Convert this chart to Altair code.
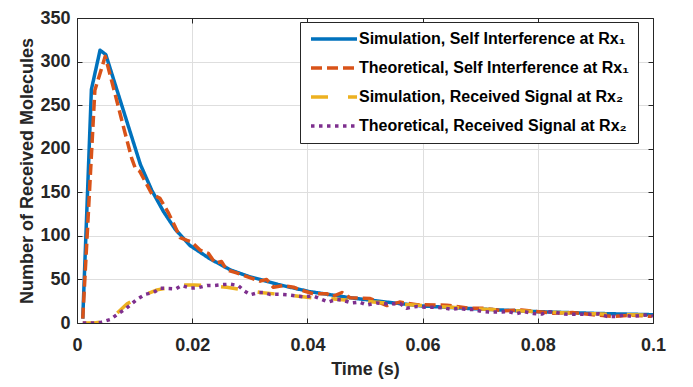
import altair as alt
import pandas as pd

# ---------------- data ----------------
series_names = [
    "Simulation, Self Interference at Rx\u2081",
    "Theoretical, Self Interference at Rx\u2081",
    "Simulation, Received Signal at Rx\u2082",
    "Theoretical, Received Signal at Rx\u2082",
]
series_colors = ["#0072BD", "#D95319", "#EDB120", "#7E2F8E"]
series_dashes = [[1, 0], [11, 5], [17, 20], [3.5, 4.5]]

t_sim_self = [0.001, 0.0025, 0.004, 0.005, 0.007, 0.009, 0.011, 0.013, 0.015, 0.017,
              0.0196, 0.023, 0.0266, 0.030, 0.0318, 0.035, 0.0404, 0.0474, 0.055,
              0.060, 0.070, 0.080, 0.090, 0.100]
n_sim_self = [5, 268, 313, 308, 266, 224, 182, 152, 128, 108,
              89, 74, 61, 53, 50, 44, 36, 29, 23,
              19.5, 16, 13, 11, 9.5]

t_theo_self = [0.001, 0.0031, 0.0049, 0.0066, 0.0083, 0.0095, 0.0101, 0.0109, 0.013, 0.0144,
               0.0159, 0.017, 0.0179, 0.019, 0.0199, 0.0214, 0.0228, 0.024, 0.0251, 0.026,
               0.0277, 0.030, 0.0318, 0.0329, 0.0341, 0.0358, 0.0376, 0.0393, 0.041, 0.0434,
               0.0442, 0.046, 0.0474, 0.0509, 0.0538, 0.056, 0.059, 0.0642, 0.068, 0.0705,
               0.074, 0.0772, 0.0827, 0.086, 0.0896, 0.0931, 0.096, 0.0998]
n_theo_self = [5, 267, 306, 263, 219, 189, 178, 174, 148, 143,
               126, 111, 98, 95, 93, 83.5, 80, 68.7, 70.5, 61,
               57.5, 52, 48, 50, 41, 43, 41, 37, 33.5, 33.5,
               30, 35, 29, 28, 20, 24, 21, 20.5, 17, 17,
               14, 15, 11.3, 12, 9.4, 7.6, 9, 7.6]

t_sim_rx = [0.001, 0.002, 0.003, 0.004, 0.0055, 0.0069, 0.0087, 0.0104, 0.0122, 0.0139,
            0.0156, 0.0179, 0.0203, 0.0231, 0.026, 0.030, 0.0318, 0.037, 0.0422, 0.0439,
            0.047, 0.050, 0.055, 0.060, 0.065, 0.070, 0.075, 0.080, 0.085, 0.090, 0.095, 0.100]
n_sim_rx = [0, 0, 0, 1, 5, 11, 22, 28, 33.5, 38,
            40, 43.5, 43.5, 42.8, 41, 37, 35, 31.7, 28, 28,
            26, 25, 22, 20, 18, 16, 14.5, 13, 11.5, 10.5, 9.5, 9]

t_theo_rx = [0.001, 0.002, 0.003, 0.004, 0.0058, 0.007, 0.0084, 0.0104, 0.0119, 0.0133,
             0.0145, 0.0158, 0.0171, 0.0182, 0.0197, 0.021, 0.0226, 0.0238, 0.0252, 0.0266,
             0.028, 0.029, 0.0301, 0.0315, 0.0323, 0.0335, 0.035, 0.0365, 0.0393, 0.041,
             0.0436, 0.045, 0.0462, 0.0477, 0.049, 0.0503, 0.052, 0.0535, 0.055, 0.0561,
             0.0572, 0.059, 0.0605, 0.062, 0.0635, 0.065, 0.0664, 0.0674, 0.069, 0.0703,
             0.072, 0.0735, 0.075, 0.0762, 0.0777, 0.0792, 0.0807, 0.0818, 0.0832, 0.0847,
             0.0862, 0.0877, 0.0892, 0.0906, 0.092, 0.0935, 0.0949, 0.0963, 0.0978, 0.0992, 0.1]
n_theo_rx = [0, 0, 0, 0.5, 4, 10, 16, 27, 33, 35,
             40, 39.5, 39, 43, 40, 40.5, 43, 43, 44, 44.6,
             43, 37, 32.4, 35, 35, 32.8, 33, 32.5, 30, 31,
             24, 27, 26, 23, 24, 20.6, 23, 22, 22, 22.4,
             17, 19, 18, 18, 17.5, 15.7, 17, 15.7, 15.5, 13,
             12.5, 12.5, 13, 10.5, 13, 11, 10.2, 13, 12, 10.2,
             10, 10, 10, 10.5, 7.6, 7.5, 9, 7.6, 8.5, 9.4, 8]

x_ticks = [0, 0.02, 0.04, 0.06, 0.08, 0.1]
y_ticks = [0, 50, 100, 150, 200, 250, 300, 350]

# ---------------- table ----------------
rows = []
for name, ts, ns in zip(series_names,
                        [t_sim_self, t_theo_self, t_sim_rx, t_theo_rx],
                        [n_sim_self, n_theo_self, n_sim_rx, n_theo_rx]):
    for t, n in zip(ts, ns):
        rows.append({"series": name, "t": t, "n": n})
df = pd.DataFrame(rows)

W, H = 576, 305
FONT = "Liberation Sans"
DARK = "#262626"
AX_FS = 18

xscale = alt.Scale(domain=[0, 0.1], nice=False, zero=False)
yscale = alt.Scale(domain=[0, 350], nice=False, zero=False)

legend = alt.Legend(
    title=None, orient="none", legendX=223, legendY=4,
    fillColor="white", strokeColor=DARK, padding=9,
    labelFont=FONT, labelFontSize=16, labelFontWeight="bold", labelColor="black",
    labelLimit=500, labelOffset=0,
    symbolType="stroke", symbolSize=2116, symbolStrokeWidth=3.5,
    clipHeight=16, rowPadding=13,
)

lines = alt.Chart(df).mark_line(strokeWidth=3.5, clip=True, strokeJoin="round").encode(
    x=alt.X("t:Q", scale=xscale, axis=alt.Axis(
        values=x_ticks, format="~g", title="Time (s)", grid=True, gridColor="#dedede",
        gridWidth=1, ticks=False, domain=True, domainColor=DARK, domainWidth=1,
        labelFont=FONT, labelFontSize=AX_FS, labelFontWeight="bold", labelColor=DARK,
        labelPadding=13, labelFlush=False, labelOverlap=False,
        titleFont=FONT, titleFontSize=AX_FS, titleFontWeight="bold", titleColor=DARK,
        titlePadding=6)),
    y=alt.Y("n:Q", scale=yscale, axis=alt.Axis(
        values=y_ticks, title="Number of Received Molecules", grid=True, gridColor="#dedede",
        gridWidth=1, ticks=False, domain=True, domainColor=DARK, domainWidth=1,
        labelFont=FONT, labelFontSize=AX_FS, labelFontWeight="bold", labelColor=DARK,
        labelPadding=7, labelFlush=False, labelOverlap=False,
        titleFont=FONT, titleFontSize=AX_FS, titleFontWeight="bold", titleColor=DARK,
        titlePadding=3)),
    color=alt.Color("series:N", scale=alt.Scale(domain=series_names, range=series_colors),
                    legend=legend),
    strokeDash=alt.StrokeDash("series:N", scale=alt.Scale(domain=series_names, range=series_dashes),
                              legend=legend),
)


def tick_axis(orient, offset, values, dom):
    return alt.Axis(orient=orient, offset=offset, values=values, labels=False, title=None,
                    grid=False, ticks=True, tickSize=5, tickColor=DARK, tickWidth=1,
                    domain=dom, domainColor=DARK, domainWidth=1)


# inward ticks at bottom and left
ticks_bl = alt.Chart(df).mark_line(opacity=0).encode(
    x=alt.X("t:Q", scale=xscale, axis=tick_axis("top", -H, x_ticks, False)),
    y=alt.Y("n:Q", scale=yscale, axis=tick_axis("right", -W, y_ticks, False)),
    detail="series:N",
)
# box top/right with inward ticks
ticks_tr = alt.Chart(df).mark_line(opacity=0).encode(
    x=alt.X("t:Q", scale=xscale, axis=tick_axis("bottom", -H, x_ticks, True)),
    y=alt.Y("n:Q", scale=yscale, axis=tick_axis("left", -W, y_ticks, True)),
    detail="series:N",
)

chart = alt.layer(lines, ticks_bl, ticks_tr).resolve_axis(
    x="independent", y="independent"
).properties(
    width=W, height=H,
    padding={"left": 69, "top": 10, "right": 32, "bottom": 56},
    autosize=alt.AutoSizeParams(type="none"),
    background="white",
).configure_view(stroke=None)

chart.save("out.html", embed_options={"renderer": "svg", "actions": False})
